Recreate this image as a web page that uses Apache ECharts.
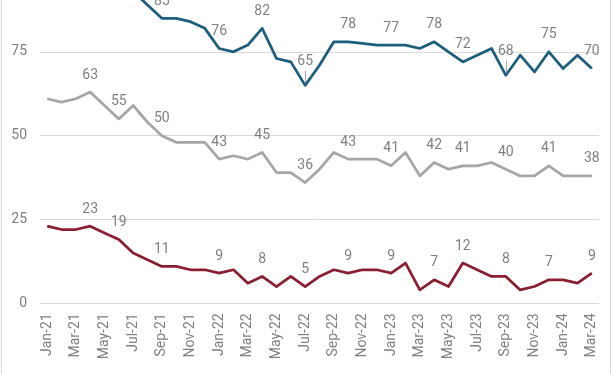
<!DOCTYPE html>
<html>
<head>
<meta charset="utf-8">
<script src="https://cdn.jsdelivr.net/npm/echarts@6/dist/echarts.min.js"></script>
<style>
  html, body { margin: 0; padding: 0; background: #fff; }
  #wrap { position: relative; width: 612px; height: 374px; overflow: hidden; }
  #frame { position: absolute; left: 1px; top: -2px; width: 608px; height: 380px; border-left: 1px solid #d9d9d9; border-right: 1px solid #d9d9d9; pointer-events: none; }
  #chart { position: absolute; left: 0; top: -32px; width: 612px; height: 406px; }
</style>
</head>
<body>
<div id="wrap"><div id="chart"></div><div id="frame"></div></div>
<script>
const categories = [
  'Jan-21','Feb-21','Mar-21','Apr-21','May-21','Jun-21','Jul-21','Aug-21','Sep-21','Oct-21','Nov-21','Dec-21',
  'Jan-22','Feb-22','Mar-22','Apr-22','May-22','Jun-22','Jul-22','Aug-22','Sep-22','Oct-22','Nov-22','Dec-22',
  'Jan-23','Feb-23','Mar-23','Apr-23','May-23','Jun-23','Jul-23','Aug-23','Sep-23','Oct-23','Nov-23','Dec-23',
  'Jan-24','Feb-24','Mar-24'
];
const blueValues = [97,96,97,98,96,95,93,89,85,85,84,82,
  76,75,77,82,73,72,65,71,78,78,77.5,77,
  77,77,76,78,75,72,74,76,68,74,69,75,
  70,74,70];
const greyValues = [61,60,61,63,59,55,59,54,50,48,48,48,
  43,44,43,45,39,39,36,40,45,43,43,43,
  41,45,38,42,40,41,41,42,40,38,38,41,
  38,38,38];
const redValues = [23,22,22,23,21,19,15,13,11,11,10,10,
  9,10,6,8,5,8,5,8,10,9,10,10,
  9,12,4,7,5,12,10,8,8,4,5,7,
  7,6,9];
const labelIndices = [3,5,8,12,15,18,21,24,27,29,32,35,38];
const leaderIndices = [18,32];
const yTicks = [0,25,50,75,100];

const textColor = '#808080';
const fontFam = 'Roboto, "Liberation Sans", sans-serif';

function buildData(values, withLeader) {
  return values.map((v, i) => {
    const show = labelIndices.includes(i);
    const item = { value: v, label: { show: show } };
    if (withLeader && leaderIndices.includes(i)) {
      item.label.distance = 17;
    }
    return item;
  });
}

function leaderLines(values) {
  return leaderIndices.map(i => [
    { coord: [i, values[i] + 0.8] },
    { coord: [i, values[i] + 4.4] }
  ]);
}

function makeSeries(name, values, color, withLeader) {
  const s = {
    name: name,
    type: 'line',
    data: buildData(values, withLeader),
    symbol: 'circle',
    symbolSize: 0.01,
    showSymbol: true,
    showAllSymbol: true,
    smooth: false,
    lineStyle: { color: color, width: 2.75, join: 'round' },
    itemStyle: { color: color },
    label: {
      show: false,
      position: 'top',
      distance: 10,
      color: textColor,
      fontSize: 14,
      fontFamily: fontFam
    },
    animation: false
  };
  if (withLeader) {
    s.markLine = {
      silent: true,
      symbol: ['none', 'none'],
      label: { show: false },
      lineStyle: { color: '#a6a6a6', width: 1, type: 'solid' },
      data: leaderLines(values),
      animation: false
    };
  }
  return s;
}

const chart = echarts.init(document.getElementById('chart'), null, { renderer: 'canvas' });
chart.setOption({
  animation: false,
  backgroundColor: 'transparent',
  grid: { left: 40, right: 13, top: 0, bottom: 70.7, containLabel: false, outerBoundsMode: 'none' },
  xAxis: {
    type: 'category',
    data: categories,
    boundaryGap: true,
    axisLine: { show: false },
    axisTick: { show: false },
    axisLabel: {
      interval: 1,
      rotate: 90,
      margin: 10,
      color: textColor,
      fontSize: 14,
      fontFamily: fontFam
    },
    splitLine: { show: false }
  },
  yAxis: {
    type: 'value',
    min: yTicks[0],
    max: yTicks[yTicks.length - 1],
    interval: 25,
    axisLine: { show: false },
    axisTick: { show: false },
    axisLabel: {
      margin: 13,
      color: textColor,
      fontSize: 14,
      fontFamily: fontFam
    },
    splitLine: { show: true, lineStyle: { color: '#d9d9d9', width: 1 } }
  },
  series: [
    makeSeries('Blue', blueValues, '#1b5e7e', true),
    makeSeries('Grey', greyValues, '#a6a6a6', false),
    makeSeries('Red', redValues, '#8a1f31', false)
  ]
});
</script>
</body>
</html>
